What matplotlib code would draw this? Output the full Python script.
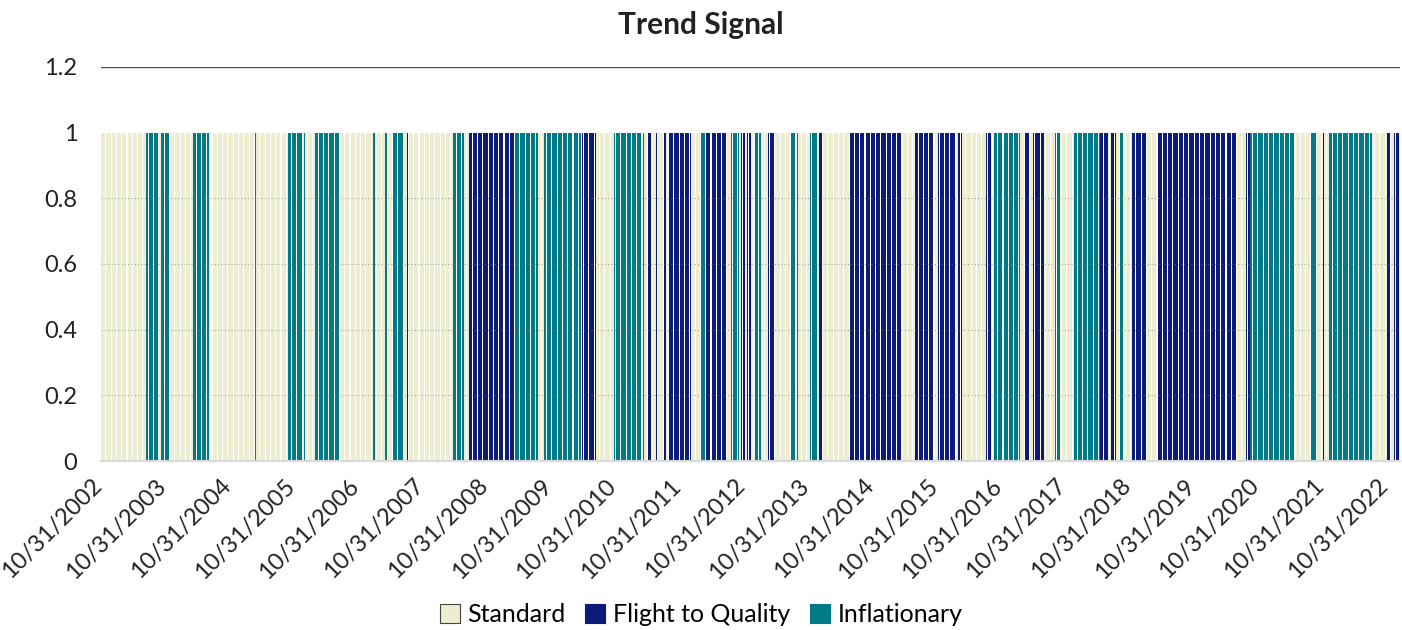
import numpy as np
import pandas as pd
import matplotlib
matplotlib.use('Agg')
from matplotlib import pyplot as plt
from matplotlib.patches import Patch
from matplotlib.transforms import ScaledTranslation

plt.rcParams['font.family'] = ['Lato', 'DejaVu Sans']

# regime switches: decimal year each regime starts
# S = Standard, F = Flight to Quality, I = Inflationary
switch_year = [2002.83, 2003.53, 2003.72, 2003.76, 2003.90, 2004.25, 2004.50, 2004.56, 2004.57,
               2005.21, 2005.23, 2005.74, 2005.96, 2005.99, 2006.01, 2006.16, 2006.54,
               2007.05, 2007.10, 2007.25, 2007.28, 2007.36, 2007.53, 2007.60, 2007.61,
               2008.31, 2008.47, 2008.56, 2009.25, 2009.62, 2009.71, 2010.29, 2010.32,
               2010.52, 2010.81, 2011.27, 2011.33, 2011.38, 2011.46, 2011.49, 2011.57,
               2011.61, 2011.66, 2012.00, 2012.16, 2012.24, 2012.55, 2012.63, 2012.74,
               2012.78, 2012.85, 2012.89, 2012.94, 2012.99, 2013.10, 2013.20, 2013.30,
               2013.56, 2013.67, 2013.86, 2013.98, 2014.00, 2014.06, 2014.47, 2015.28,
               2015.49, 2015.79, 2015.85, 2016.13, 2016.16, 2016.21, 2016.60, 2016.68,
               2016.71, 2017.11, 2017.19, 2017.27, 2017.32, 2017.50, 2017.67, 2017.74,
               2017.96, 2018.36, 2018.50, 2018.53, 2018.62, 2018.67, 2018.73, 2018.86,
               2019.09, 2019.25, 2020.49, 2020.65, 2020.70, 2021.40, 2021.63, 2021.74,
               2021.83, 2021.85, 2021.93, 2022.60, 2022.83, 2022.88, 2022.94, 2023.02]
# same grouping as the years above, one letter per switch
switch_regime = list('SISISISIS'
                     'ISISISIS'
                     'ISISISFS'
                     'ISFISISF'
                     'SISFSFSF'
                     'SFSIFSIS'
                     'FSFSISFS'
                     'ISISFSFS'
                     'FSFSFSFS'
                     'ISFSFSIS'
                     'IFSFSISF'
                     'SFSFISIS'
                     'FSISFSFS')

labels = ['Standard', 'Flight to Quality', 'Inflationary']
codes = ['S', 'F', 'I']
colors = ['#EDEDD2', '#0C1A78', '#017A88']

# weekly observations
dates = pd.date_range('2002-10-31', '2023-01-12', freq='7D')
dec = dates.year + (dates.dayofyear - 1) / 365.25
idx = np.searchsorted(np.array(switch_year), dec, side='right') - 1
idx = np.clip(idx, 0, len(switch_regime) - 1)
regime = np.array(switch_regime)[idx]

fig = plt.figure(figsize=(14.02, 6.3), dpi=100)
ax = fig.add_axes([0.072, 0.268, 0.9265, 0.626])

for code, lab, col in zip(codes, labels, colors):
    h = (regime == code).astype(float)
    ax.bar(dates, h, width=5.6, color=col, linewidth=0, label=lab)

ax.set_ylim(0, 1.2)
ax.set_xlim(pd.Timestamp('2002-10-30'), pd.Timestamp('2023-01-13'))
ax.set_yticks([0, 0.2, 0.4, 0.6, 0.8, 1.0, 1.2])
ax.set_yticklabels(['0', '0.2', '0.4', '0.6', '0.8', '1', '1.2'], fontsize=17,
                   color='#222222')
for y in [0.2, 0.4, 0.6, 0.8]:
    ax.axhline(y, color='#777777', lw=0.8, ls=(0, (1, 2)), alpha=0.6, zorder=3)
ax.axhline(1.2, color='#555555', lw=1.0, zorder=3)

tick_dates = [pd.Timestamp(f'{y}-10-31') for y in range(2002, 2023)]
ax.set_xticks(tick_dates)
ax.set_xticklabels([d.strftime('%m/%d/%Y') for d in tick_dates], rotation=45,
                   ha='right', rotation_mode='anchor', fontsize=17, color='#222222')
ax.tick_params(length=0, pad=10)
ax.tick_params(axis='y', pad=17)
shift = ScaledTranslation(-10 / 100, 0, fig.dpi_scale_trans)
for t in ax.get_xticklabels():
    t.set_transform(t.get_transform() + shift)

for s in ['top', 'right', 'left']:
    ax.spines[s].set_visible(False)
ax.spines['bottom'].set_color('#D9D9D9')
ax.spines['bottom'].set_linewidth(1.5)

fig.suptitle('Trend Signal', fontsize=21.5, fontweight='bold', color='#222222', y=0.982)

handles = [Patch(facecolor=c, edgecolor='#444444' if i == 0 else c, linewidth=0.8)
           for i, c in enumerate(colors)]
fig.legend(handles, labels, loc='lower center', ncol=3, frameon=False, fontsize=18,
           bbox_to_anchor=(0.5, -0.03), handlelength=0.8, handleheight=0.8,
           handletextpad=0.3, columnspacing=0.8)

plt.savefig('out.png', dpi=100)
